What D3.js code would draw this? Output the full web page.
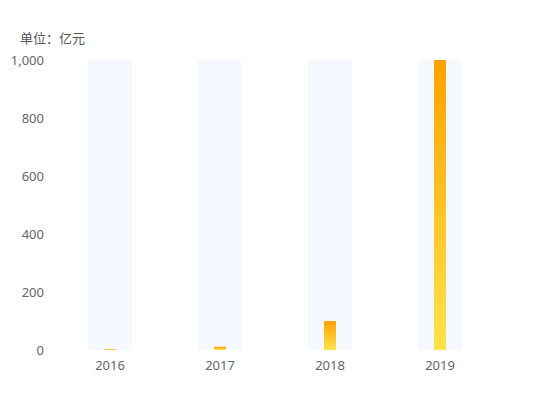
<!DOCTYPE html>
<html>
<head>
<meta charset="utf-8">
<script src="https://cdn.jsdelivr.net/npm/d3@7"></script>
<style>
  body { margin: 0; background: #fff; }
  text { font-family: "Noto Sans", "Noto Sans CJK SC", sans-serif; }
</style>
</head>
<body>
<div id="chart"></div>
<script>
// Chart data
const years = ['2016', '2017', '2018', '2019'];
const values = [3, 11, 100, 1000];
const yTicks = [0, 200, 400, 600, 800, 1000];
const unitLabel = '单位：亿元';

const width = 550;
const height = 420;
const margin = { top: 60, right: 55, bottom: 70, left: 55 };

const svg = d3.select('#chart')
    .append('svg')
    .attr('width', width)
    .attr('height', height);

// Gradient for bars
const defs = svg.append('defs');
const grad = defs.append('linearGradient')
    .attr('id', 'barGrad')
    .attr('x1', 0).attr('y1', 0)
    .attr('x2', 0).attr('y2', 1);
grad.append('stop').attr('offset', '0%').attr('stop-color', '#ffa100');
grad.append('stop').attr('offset', '100%').attr('stop-color', '#ffe34c');

const x = d3.scaleBand()
    .domain(years)
    .range([margin.left, width - margin.right]);

const y = d3.scaleLinear()
    .domain([0, 1000])
    .range([height - margin.bottom, margin.top]);

// Background shadow bars
svg.append('g')
    .selectAll('rect')
    .data(years)
    .enter()
    .append('rect')
    .attr('x', d => x(d) + x.bandwidth() * 0.3)
    .attr('y', y(1000))
    .attr('width', x.bandwidth() * 0.4)
    .attr('height', y(0) - y(1000))
    .style('fill', '#f5f9ff');

// Value bars
const barW = 12;
svg.append('g')
    .selectAll('rect')
    .data(values)
    .enter()
    .append('rect')
    .attr('x', (d, i) => x(years[i]) + x.bandwidth() / 2 - barW / 2)
    .attr('y', d => y(d))
    .attr('width', barW)
    .attr('height', d => y(0) - y(d))
    .style('fill', 'url(#barGrad)');

// Y axis
const yAxis = svg.append('g')
    .attr('transform', `translate(${margin.left - 8},0)`)
    .call(d3.axisLeft(y).tickValues(yTicks).tickSize(0).tickFormat(d3.format(',')));
yAxis.select('.domain').remove();
yAxis.selectAll('text')
    .style('font-size', '13px')
    .style('fill', '#666');

// X axis
const xAxis = svg.append('g')
    .attr('transform', `translate(0,${height - margin.bottom + 8})`)
    .call(d3.axisBottom(x).tickSize(0));
xAxis.select('.domain').remove();
xAxis.selectAll('text')
    .style('font-size', '13px')
    .style('fill', '#666');

// Unit label
svg.append('text')
    .attr('x', 20)
    .attr('y', 43)
    .text(unitLabel)
    .style('font-family', '"Noto Sans CJK SC", sans-serif')
    .style('font-size', '13px')
    .style('fill', '#555');
</script>
</body>
</html>
